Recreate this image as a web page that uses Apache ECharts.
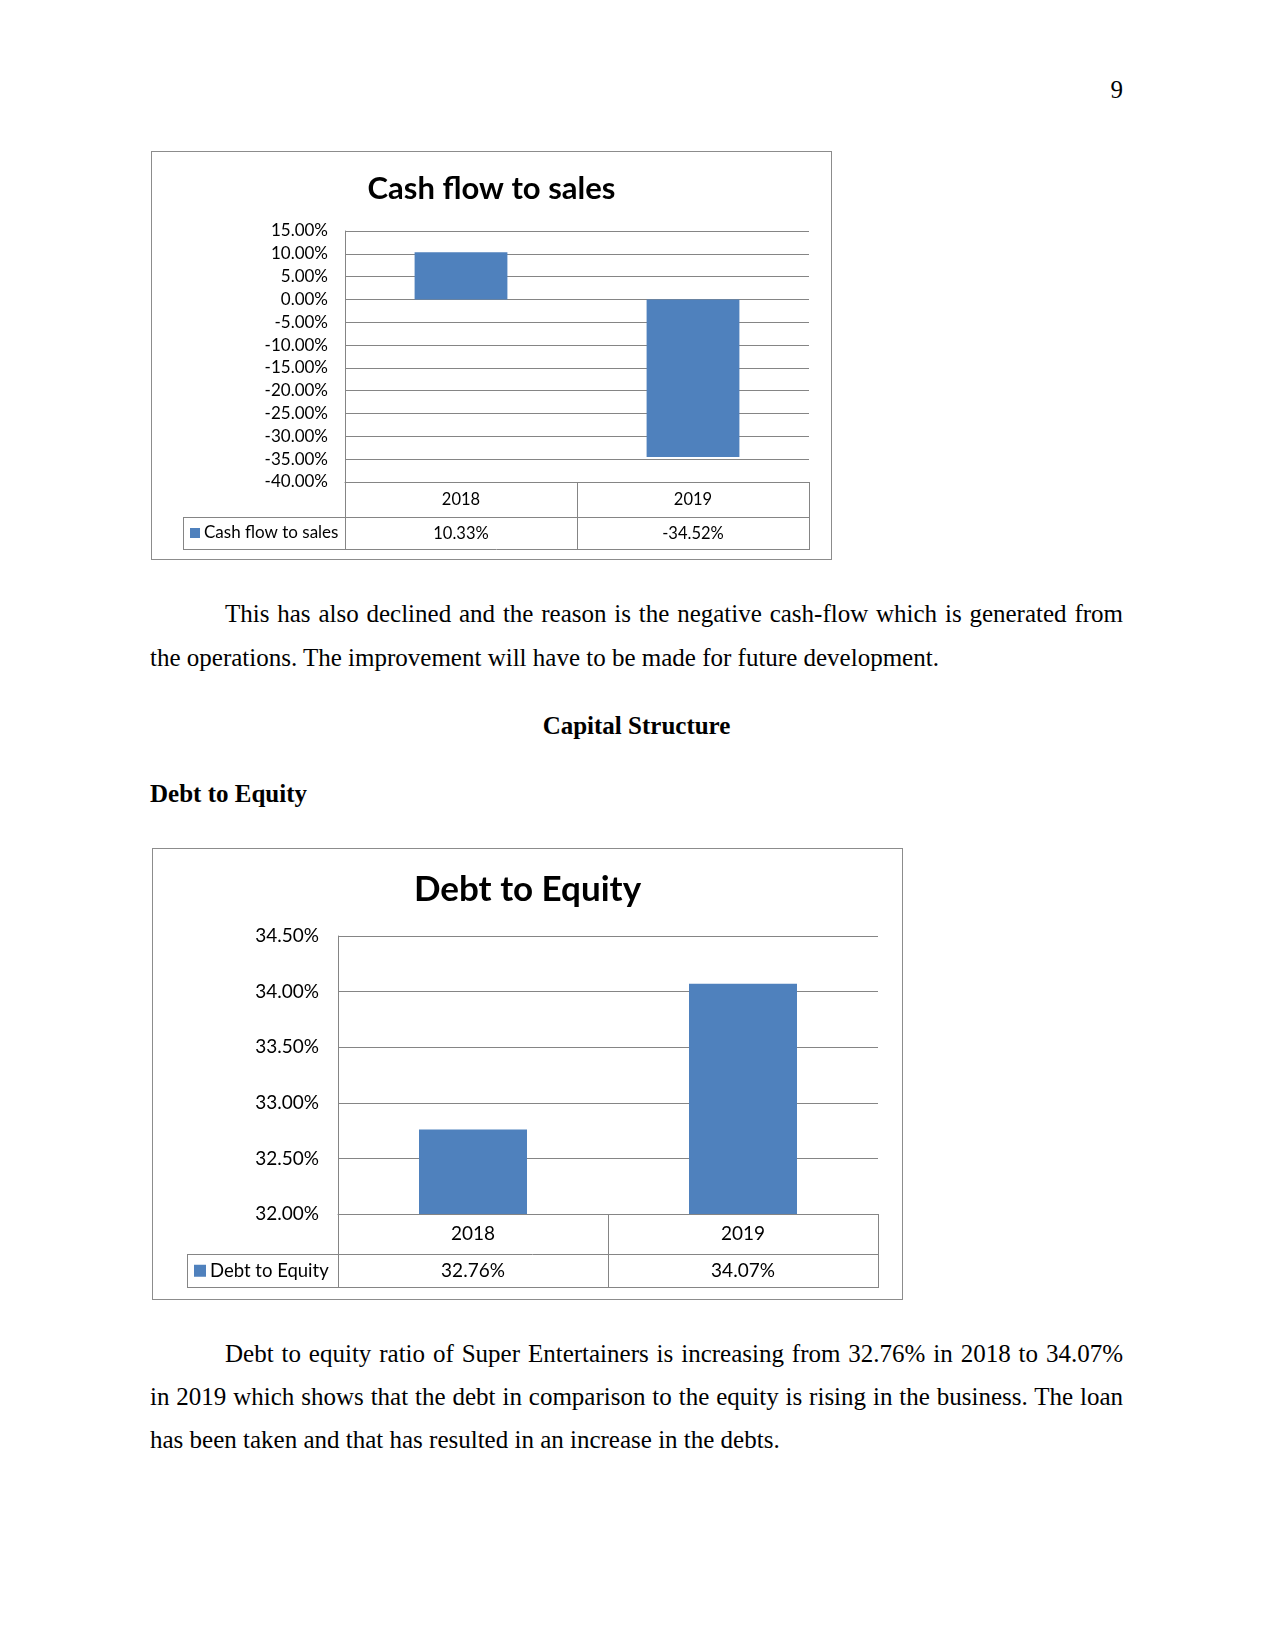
<!DOCTYPE html>
<html>
<head>
<meta charset="utf-8">
<script src="https://cdn.jsdelivr.net/npm/echarts@6/dist/echarts.min.js"></script>
<style>
  html, body { margin:0; padding:0; background:#fff; }
  body { width:1275px; height:1651px; position:relative; overflow:hidden; }
  .line { position:absolute; font-family:'Liberation Serif','Times New Roman',serif; font-size:25px; line-height:44px; white-space:nowrap; color:#000; }
  .just { text-align:justify; text-align-last:justify; }
  .bold { font-weight:bold; }
  .chartbox { position:absolute; box-sizing:border-box; border:1px solid #8c8c8c; background:#fff; }
</style>
</head>
<body>
<div class="line" style="left:1000px;width:123px;top:68px;text-align:right;">9</div>

<div id="c1" class="chartbox" style="left:151px;top:151px;width:681px;height:409px;"></div>

<div id="p1a" class="line just" style="left:225px;width:898px;top:592px;"></div>
<div id="p1b" class="line" style="left:150px;top:636px;"></div>
<div class="line bold" style="left:150px;width:973px;top:704px;text-align:center;">Capital Structure</div>
<div class="line bold" style="left:150px;top:772px;">Debt to Equity</div>

<div id="c2" class="chartbox" style="left:152px;top:848px;width:751px;height:452px;"></div>

<div id="p2a" class="line just" style="left:225px;width:898px;top:1332px;"></div>
<div id="p2b" class="line just" style="left:150px;width:973px;top:1375px;"></div>
<div id="p2c" class="line" style="left:150px;top:1418px;"></div>

<script>
// ---- Data ----
const cfTitle = 'Cash flow to sales';
const cfCategories = ['2018', '2019'];
const cfValues = [10.33, -34.52];
const cfAxisMin = -40, cfAxisMax = 15, cfAxisStep = 5;

const deTitle = 'Debt to Equity';
const deCategories = ['2018', '2019'];
const deValues = [32.76, 34.07];
const deAxisMin = 32, deAxisMax = 34.5, deAxisStep = 0.5;

const pct = v => v.toFixed(2) + '%';

// ---- Body text ----
document.getElementById('p1a').textContent = 'This has also declined and the reason is the negative cash-flow which is generated from';
document.getElementById('p1b').textContent = 'the operations. The improvement will have to be made for future development.';
document.getElementById('p2a').textContent = 'Debt to equity ratio of Super Entertainers is increasing from ' + pct(deValues[0]) + ' in ' + deCategories[0] + ' to ' + pct(deValues[1]);
document.getElementById('p2b').textContent = 'in ' + deCategories[1] + ' which shows that the debt in comparison to the equity is rising in the business. The loan';
document.getElementById('p2c').textContent = 'has been taken and that has resulted in an increase in the debts.';

const GRID = '#858585';
const BAR = '#4F81BD';
const FONT = 'Lato';

function buildOption(title, cats, vals, min, max, step, L) {
  const gridRight = L.gridLeft + L.gridWidth;
  const gridBottom = L.gridTop + L.gridHeight;
  const row2Top = gridBottom + L.row1;
  const row2Bot = row2Top + L.row2;
  const lineStyle = { stroke: GRID, lineWidth: 1 };
  return {
    animation: false,
    title: {
      text: title, left: 'center', top: L.titleTop,
      textStyle: { fontFamily: FONT, fontWeight: 'bold', fontSize: L.titleSize, color: '#000' }
    },
    legend: {
      data: [title], left: L.legendLeft + L.legendPad, top: row2Top + (L.row2 - L.legFs) / 2,
      padding: 0, itemWidth: L.sq, itemHeight: L.sq, icon: 'rect', selectedMode: false,
      textStyle: { fontFamily: FONT, fontSize: L.legFs, color: '#000', padding: [0, 0, 0, -1] }
    },
    grid: { left: L.gridLeft, top: L.gridTop, width: L.gridWidth, height: L.gridHeight, containLabel: false },
    xAxis: [
      {
        type: 'category', data: cats, position: 'bottom',
        axisLine: { onZero: false, lineStyle: { color: GRID, width: 1 } },
        axisTick: { show: true, length: L.row1 + L.row2, lineStyle: { color: GRID } },
        axisLabel: { margin: (L.row1 - L.tabFs) / 2, fontFamily: FONT, fontSize: L.tabFs, color: '#000' },
        splitLine: { show: false }
      },
      {
        type: 'category', data: vals.map(pct), position: 'bottom', offset: L.row1,
        axisLine: { show: false }, axisTick: { show: false },
        axisLabel: { margin: (L.row2 - L.tabFs) / 2, fontFamily: FONT, fontSize: L.tabFs, color: '#000' },
        splitLine: { show: false }
      }
    ],
    yAxis: {
      type: 'value', min: min, max: max, interval: step,
      axisLine: { show: true, lineStyle: { color: GRID } },
      axisTick: { show: false },
      splitLine: { show: true, lineStyle: { color: GRID, width: 1 } },
      axisLabel: { formatter: pct, margin: L.labMargin, fontFamily: FONT, fontSize: L.tickFs, color: '#000' }
    },
    series: [{
      type: 'bar', name: title, xAxisIndex: 0, data: vals,
      barCategoryGap: '60%', itemStyle: { color: BAR }
    }],
    graphic: [
      { type: 'line', shape: { x1: L.legendLeft, y1: row2Top + 0.5, x2: gridRight, y2: row2Top + 0.5 }, style: lineStyle, silent: true },
      { type: 'line', shape: { x1: L.legendLeft, y1: row2Bot + 0.5, x2: gridRight + 1, y2: row2Bot + 0.5 }, style: lineStyle, silent: true },
      { type: 'line', shape: { x1: L.legendLeft + 0.5, y1: row2Top, x2: L.legendLeft + 0.5, y2: row2Bot }, style: lineStyle, silent: true }
    ]
  };
}

const c1 = echarts.init(document.getElementById('c1'), null, { renderer: 'canvas' });
c1.setOption(buildOption(cfTitle, cfCategories, cfValues, cfAxisMin, cfAxisMax, cfAxisStep, {
  titleTop: 16, titleSize: 31,
  gridLeft: 193, gridTop: 79, gridWidth: 464, gridHeight: 251,
  row1: 35, row2: 32, legendLeft: 31, legendPad: 7, sq: 10,
  tickFs: 17, legFs: 17, tabFs: 16.5, labMargin: 17
}));

const c2 = echarts.init(document.getElementById('c2'), null, { renderer: 'canvas' });
c2.setOption(buildOption(deTitle, deCategories, deValues, deAxisMin, deAxisMax, deAxisStep, {
  titleTop: 18, titleSize: 35,
  gridLeft: 185, gridTop: 87, gridWidth: 540, gridHeight: 278,
  row1: 40, row2: 33, legendLeft: 34, legendPad: 7, sq: 12,
  tickFs: 19, legFs: 18.5, tabFs: 19, labMargin: 19
}));
</script>
</body>
</html>
